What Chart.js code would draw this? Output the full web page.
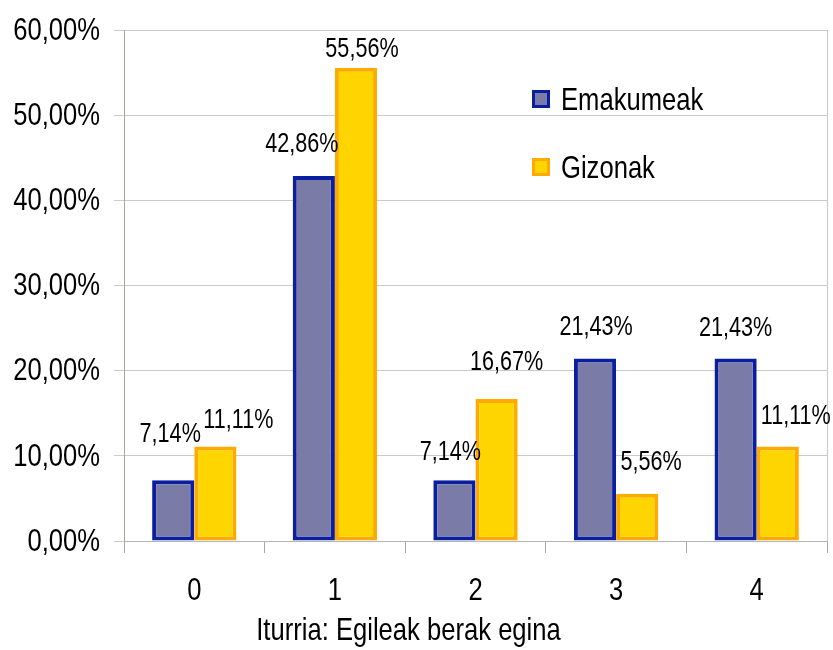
<!DOCTYPE html>
<html lang="eu">
<head>
  <meta charset="UTF-8" />
  <title>Emakumeak eta gizonak</title>
  <script src="https://cdn.jsdelivr.net/npm/chart.js"></script>
  <style>
    body {
      margin: 0;
      background-color: #fff;
    }

    #chartBox {
      width: 833px;
      height: 650px;
    }
  </style>
</head>
<body>

  <div id="chartBox">
    <canvas id="barChart"></canvas>
  </div>

  <script>
    const categories = ['0', '1', '2', '3', '4'];
    const womenLabel = 'Emakumeak';
    const menLabel = 'Gizonak';
    const womenValues = [7.14, 42.86, 7.14, 21.43, 21.43];
    const menValues = [11.11, 55.56, 16.67, 5.56, 11.11];
    const yTicks = [0, 10, 20, 30, 40, 50, 60];
    const sourceNote = 'Iturria: Egileak berak egina';

    // little nudges so the value labels sit where the office chart put them
    const labelNudge = [
      { dx: [-3, -12, -4, 1, 0], dy: [-46, -31, -28, -31, -30] },
      { dx: [23, 6, 10, 14, 18], dy: [-26, -18, -36, -31, -30] }
    ];

    // no narrow face installed, so squeeze Liberation Sans by hand
    const FONT = "'Liberation Sans', Arial, sans-serif";
    const NARROW = 0.8;

    function pct(v) {
      return v.toFixed(2).replace('.', ',') + '%';
    }

    function narrowText(ctx, text, x, y, size, align) {
      ctx.save();
      ctx.font = size + 'px ' + FONT;
      ctx.textAlign = align;
      ctx.textBaseline = 'middle';
      ctx.translate(x, y);
      ctx.scale(NARROW, 1);
      ctx.fillText(text, 0, 0);
      ctx.restore();
    }

    const extras = {
      id: 'extras',
      afterDraw(chart) {
        const ctx = chart.ctx;
        const area = chart.chartArea;
        const xs = chart.scales.x;
        const ys = chart.scales.y;

        ctx.save();
        // right frame line
        ctx.strokeStyle = '#c8c8c8';
        ctx.lineWidth = 1;
        ctx.beginPath();
        ctx.moveTo(area.right + 0.5, area.top);
        ctx.lineTo(area.right + 0.5, area.bottom);
        ctx.stroke();

        ctx.fillStyle = '#000';

        // axis labels
        yTicks.forEach(v => {
          narrowText(ctx, pct(v), area.left - 24, ys.getPixelForValue(v) + 1, 32, 'right');
        });
        categories.forEach((c, i) => {
          narrowText(ctx, c, xs.getPixelForValue(i), 591, 32, 'center');
        });
        // source note sits centred on the whole canvas, not the plot
        narrowText(ctx, sourceNote, chart.width / 2 - 8, 631, 32, 'center');

        // value labels
        chart.data.datasets.forEach((ds, i) => {
          const meta = chart.getDatasetMeta(i);
          meta.data.forEach((bar, j) => {
            const n = labelNudge[i];
            narrowText(ctx, pct(ds.data[j]), bar.x + n.dx[j], bar.y + n.dy[j], 27, 'center');
          });
        });

        // legend inside the plot
        const rows = [100, 168];
        chart.data.datasets.forEach((ds, i) => {
          const y = rows[i];
          ctx.fillStyle = ds.borderColor;
          ctx.fillRect(532, y - 10, 18, 18);
          ctx.fillStyle = ds.backgroundColor;
          ctx.fillRect(535, y - 7, 12, 12);
          ctx.fillStyle = '#000';
          narrowText(ctx, ds.label, 561, y + 1, 32, 'left');
        });
        ctx.restore();
      }
    };

    const ctx = document.getElementById('barChart').getContext('2d');
    new Chart(ctx, {
      type: 'bar',
      data: {
        labels: categories,
        datasets: [
          {
            label: womenLabel,
            data: womenValues,
            backgroundColor: '#7b7ba8',
            borderColor: '#0a1ea0',
            borderWidth: 4,
            borderSkipped: false
          },
          {
            label: menLabel,
            data: menValues,
            backgroundColor: '#ffd500',
            borderColor: '#ffaa00',
            borderWidth: 4,
            borderSkipped: false
          }
        ]
      },
      options: {
        responsive: true,
        maintainAspectRatio: false,
        animation: false,
        datasets: {
          bar: { categoryPercentage: 0.6, barPercentage: 1.0 }
        },
        layout: {
          padding: { top: 30, right: 6, bottom: 0, left: 0 }
        },
        plugins: {
          legend: { display: false },
          tooltip: { enabled: false }
        },
        scales: {
          x: {
            grid: {
              drawOnChartArea: false,
              color: '#a8a8a0',
              tickLength: 12
            },
            border: { color: '#b4b4b4' },
            ticks: { display: false },
            afterFit(scale) { scale.height = 109; }
          },
          y: {
            min: 0,
            max: 60,
            afterBuildTicks(scale) {
              scale.ticks = yTicks.map(v => ({ value: v }));
            },
            grid: {
              color: '#cacaca',
              tickLength: 10
            },
            border: { color: '#a8a496' },
            ticks: { display: false },
            afterFit(scale) { scale.width = 124; }
          }
        }
      },
      plugins: [extras]
    });
  </script>

</body>
</html>
